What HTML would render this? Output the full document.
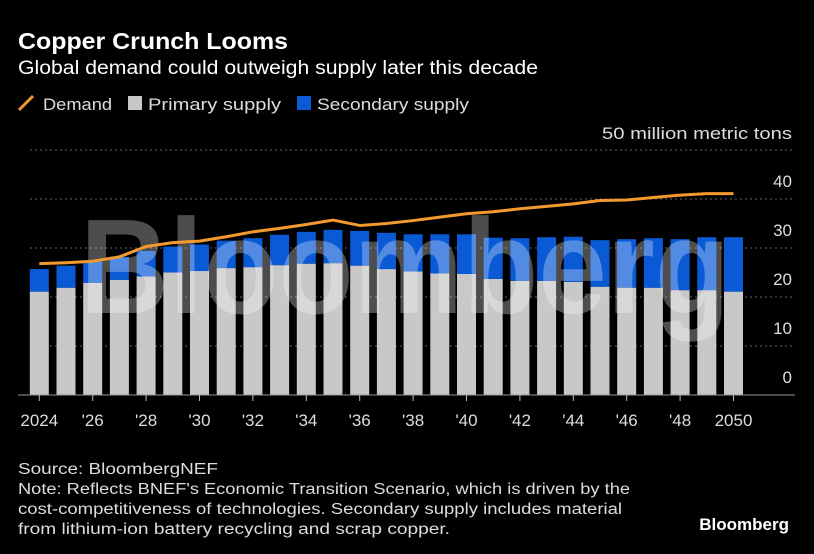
<!DOCTYPE html>
<html><head><meta charset="utf-8"><style>
html,body{margin:0;padding:0;background:#000;}
body{width:814px;height:554px;overflow:hidden;font-family:"Liberation Sans",Arial,sans-serif;color:#fff;}
</style></head><body>
<svg width="814" height="554" style="position:absolute;left:0;top:0">
<text x="18" y="49" font-size="23" font-weight="bold" fill="#fff" textLength="270" lengthAdjust="spacingAndGlyphs">Copper Crunch Looms</text>
<text x="18" y="74" font-size="19" fill="#fff" textLength="520" lengthAdjust="spacingAndGlyphs">Global demand could outweigh supply later this decade</text>
<g>
<line x1="19" y1="110" x2="33" y2="96" stroke="#f39a2e" stroke-width="3"/>
<text x="43" y="110" font-size="17" fill="#ddd" textLength="69" lengthAdjust="spacingAndGlyphs">Demand</text>
<rect x="128" y="96" width="14" height="14" fill="#c8c8c8"/>
<text x="148" y="110" font-size="17" fill="#ddd" textLength="133" lengthAdjust="spacingAndGlyphs">Primary supply</text>
<rect x="297" y="96" width="14" height="14" fill="#0a5ad6"/>
<text x="317" y="110" font-size="17" fill="#ddd" textLength="152" lengthAdjust="spacingAndGlyphs">Secondary supply</text>
</g>
<text x="792" y="139" font-size="17" fill="#ddd" text-anchor="end" textLength="190" lengthAdjust="spacingAndGlyphs">50 million metric tons</text>
<g id="plot"></g>
<text x="18" y="474" font-size="15.5" fill="#ddd" textLength="200" lengthAdjust="spacingAndGlyphs">Source: BloombergNEF</text>
<text x="18" y="494" font-size="15.5" fill="#ddd" textLength="612" lengthAdjust="spacingAndGlyphs">Note: Reflects BNEF's Economic Transition Scenario, which is driven by the</text>
<text x="18" y="514" font-size="15.5" fill="#ddd" textLength="604" lengthAdjust="spacingAndGlyphs">cost-competitiveness of technologies. Secondary supply includes material</text>
<text x="18" y="534" font-size="15.5" fill="#ddd" textLength="432" lengthAdjust="spacingAndGlyphs">from lithium-ion battery recycling and scrap copper.</text>
<text x="789" y="530" font-size="17" font-weight="bold" fill="#fff" text-anchor="end">Bloomberg</text>
</svg>
<script>
const years=[2024,2025,2026,2027,2028,2029,2030,2031,2032,2033,2034,2035,2036,2037,2038,2039,2040,2041,2042,2043,2044,2045,2046,2047,2048,2049,2050];
const primary=[21.1,21.9,22.9,23.5,24.2,25.0,25.3,25.9,26.1,26.5,26.8,26.9,26.4,25.7,25.2,24.8,24.7,23.7,23.3,23.3,23.1,22.1,21.9,21.9,21.4,21.4,21.1];
const secondary=[4.6,4.5,4.3,4.7,5.2,5.3,5.4,5.6,5.9,6.2,6.5,6.8,7.1,7.4,7.6,8.0,8.1,8.4,8.7,8.9,9.2,9.5,9.9,10.1,10.4,10.8,11.1];
const demand=[26.8,27.0,27.3,28.2,30.3,31.1,31.4,32.3,33.3,34.0,34.8,35.7,34.6,35.0,35.6,36.3,37.0,37.4,38.0,38.5,39.0,39.7,39.8,40.3,40.8,41.1,41.1];
const yTicks=[0,10,20,30,40,50];
const xLabels=["2024","'26","'28","'30","'32","'34","'36","'38","'40","'42","'44","'46","'48","2050"];
const NS="http://www.w3.org/2000/svg";
const g=document.getElementById('plot');
const y0=395,ppu=4.9,x0=39.3,step=26.7,bw=19;
const yS=v=>y0-v*ppu;
const xS=i=>x0+i*step;
function mk(t,a){const e=document.createElementNS(NS,t);for(const k in a)e.setAttribute(k,a[k]);g.appendChild(e);return e;}
yTicks.forEach(v=>{
  if(v>0){const l=mk('line',{x1:30,x2:795,y1:yS(v),y2:yS(v),stroke:'#666','stroke-width':1,'stroke-dasharray':'2,3'});
  
  }
  if(v<50){const t=mk('text',{x:792,y:yS(v)-12,'font-size':17,fill:'#ddd','text-anchor':'end'});t.textContent=v;
  
  }
});
years.forEach((yr,i)=>{
  const x=xS(i)-bw/2;
  const p=mk('rect',{x:x,y:yS(primary[i]),width:bw,height:primary[i]*ppu,fill:'#c8c8c8'});
  
  
  const s=mk('rect',{x:x,y:yS(primary[i]+secondary[i]),width:bw,height:secondary[i]*ppu,fill:'#0a5ad6'});
  
  
});
const wm=mk('text',{x:80,y:313,'font-size':135,'font-weight':'bold',fill:'#fff','fill-opacity':0.3,textLength:650,lengthAdjust:'spacingAndGlyphs'});
wm.textContent='Bloomberg';


const line=mk('polyline',{points:demand.map((v,i)=>xS(i)+','+yS(v)).join(' '),fill:'none',stroke:'#f39a2e','stroke-width':3,'stroke-linejoin':'round'});


const base=mk('line',{x1:18,x2:795,y1:y0,y2:y0,stroke:'#999','stroke-width':1});


xLabels.forEach((lb,k)=>{
  const i=k*2;
  const tk=mk('line',{x1:xS(i),x2:xS(i),y1:y0,y2:y0+6,stroke:'#bbb','stroke-width':1});
  
  
  const t=mk('text',{x:xS(i),y:426,'font-size':17,fill:'#ddd','text-anchor':'middle'});t.textContent=lb;
  
  
});
</script>
</body></html>
